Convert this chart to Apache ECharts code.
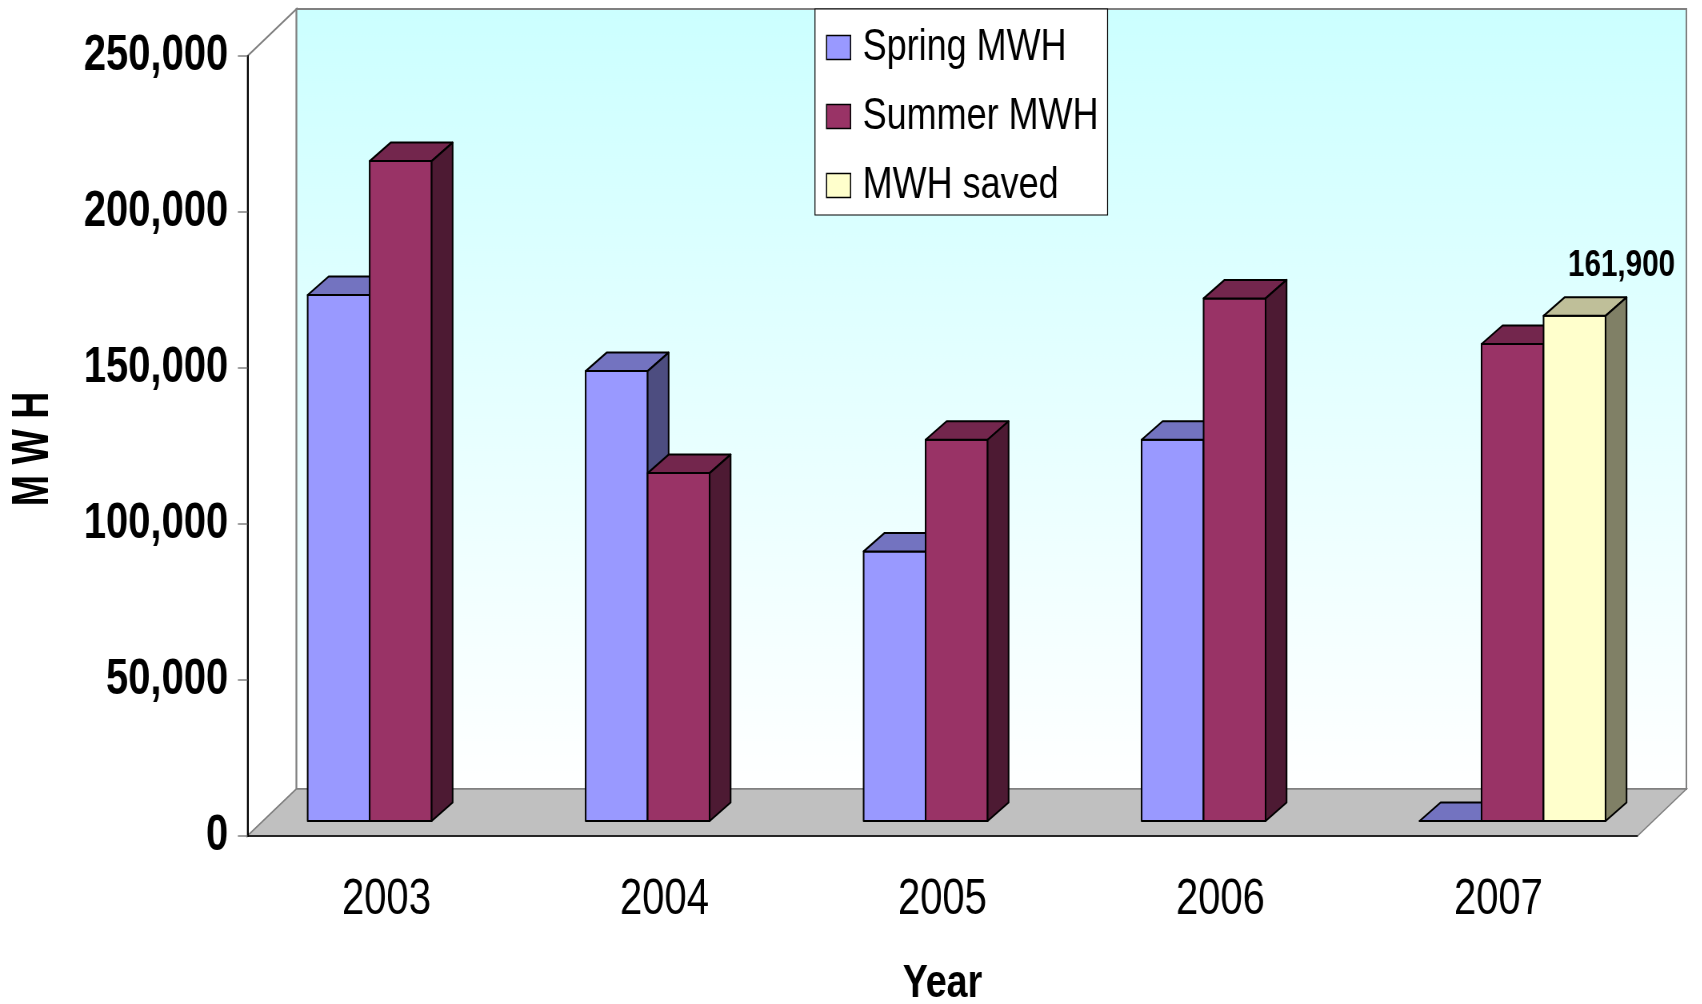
<!DOCTYPE html>
<html>
<head>
<meta charset="utf-8">
<script src="https://cdn.jsdelivr.net/npm/echarts@6/dist/echarts.min.js"></script>
<style>
html, body { margin: 0; padding: 0; background: #fff; overflow: hidden; }
#wrap { width: 1702px; height: 1004px; overflow: hidden; position: relative; }
/* the source chart uses a narrow font; draw wider and squeeze horizontally */
#chart { width: 2127.5px; height: 1004px; transform: scaleX(0.8); transform-origin: 0 0; }
</style>
</head>
<body>
<div id="wrap"><div id="chart"></div></div>
<script>
var years = ['2003', '2004', '2005', '2006', '2007'];
var springMwh = [168600, 144200, 86400, 122200, 0];
var summerMwh = [211500, 111500, 122200, 167500, 152900];
var savedMwh = [null, null, null, null, 161900];
var yMax = 250000;
var yStep = 50000;
var yTitle = 'M W H';

var K = 0.8; // horizontal squeeze, x values below are in screen px / K
var FONT = '"Liberation Sans", Arial, sans-serif';
// fake 3d depth
var WALL_DX = 49 / K, WALL_DY = 47;
var FRONT_DY = 15;
var BAR_DX = 21 / K, BAR_DY = 18.5;
var BAR_FRAC = 0.223, GROUP_SHIFT = 0.051;

var faces = {
  spring: ['#9999ff', '#7373c0', '#4d4d80'],
  summer: ['#993366', '#73264d', '#4d1a33'],
  saved: ['#ffffcc', '#bfbf99', '#808066']
};

function fmt (v) {
  return String(v).replace(/\B(?=(\d{3})+(?!\d))/g, ',');
}

function renderWalls (params, api) {
  var cs = params.coordSys;
  var x0 = cs.x, y0 = cs.y, w = cs.width, h = cs.height;
  return {
    type: 'group',
    children: [
      {
        type: 'polygon',
        shape: {points: [[x0, y0], [x0 + WALL_DX, y0 - WALL_DY], [x0 + WALL_DX, y0 + h - WALL_DY], [x0, y0 + h]]},
        style: {fill: '#ffffff', stroke: '#808080', lineWidth: 2}
      },
      {
        type: 'rect',
        shape: {x: x0 + WALL_DX, y: y0 - WALL_DY, width: w, height: h},
        style: {
          fill: new echarts.graphic.LinearGradient(0, 0, 0, 1, [
            {offset: 0, color: '#ccffff'},
            {offset: 1, color: '#ffffff'}
          ]),
          stroke: '#808080',
          lineWidth: 2
        }
      },
      {
        type: 'polygon',
        shape: {points: [[x0, y0 + h], [x0 + w, y0 + h], [x0 + w + WALL_DX, y0 + h - WALL_DY], [x0 + WALL_DX, y0 + h - WALL_DY]]},
        style: {fill: '#c0c0c0', stroke: '#808080', lineWidth: 1.5}
      },
      // y axis title, tall narrow letters like the source
      {
        type: 'text',
        x: x0 - 214 / K,
        y: y0 + h / 2 + 3,
        rotation: Math.PI / 2,
        scaleX: 0.78,
        scaleY: 1.35,
        style: {
          text: yTitle, fontSize: 48, fontWeight: 'bold', fontFamily: FONT,
          align: 'center', verticalAlign: 'middle', fill: '#000'
        }
      }
    ]
  };
}

function barRenderer (slot, cols, withLabel) {
  return function (params, api) {
    var v = api.value(1);
    if (isNaN(v)) return null;
    var i = api.value(0);
    var band = api.size([1, 0])[0];
    var base = api.coord([i, 0]);
    var top = api.coord([i, v]);
    var bw = band * BAR_FRAC;
    var left = base[0] + band * GROUP_SHIFT + (slot - 1.5) * bw;
    var right = left + bw;
    var yb = base[1] - FRONT_DY;
    var yt = top[1] - FRONT_DY;
    var line = {stroke: '#000', lineWidth: 2, lineJoin: 'round'};
    var kids = [
      {type: 'rect', shape: {x: left, y: yt, width: bw, height: yb - yt}, style: Object.assign({fill: cols[0]}, line)},
      {type: 'polygon', shape: {points: [[left, yt], [right, yt], [right + BAR_DX, yt - BAR_DY], [left + BAR_DX, yt - BAR_DY]]}, style: Object.assign({fill: cols[1]}, line)},
      {type: 'polygon', shape: {points: [[right, yt], [right + BAR_DX, yt - BAR_DY], [right + BAR_DX, yb - BAR_DY], [right, yb]]}, style: Object.assign({fill: cols[2]}, line)}
    ];
    if (withLabel) {
      kids.push({
        type: 'text',
        style: {
          text: fmt(v), x: left + bw / 2 + 47 / K, y: yt - 32,
          align: 'center', verticalAlign: 'bottom',
          fontSize: 37, fontWeight: 'bold', fontFamily: FONT, fill: '#000'
        }
      });
    }
    return {type: 'group', children: kids};
  };
}

function toData (arr) {
  return arr.map(function (v, i) { return [i, v]; });
}

var chart = echarts.init(document.getElementById('chart'));
chart.setOption({
  animation: false,
  backgroundColor: '#fff',
  grid: {left: 247.5 / K, right: 65 / K, top: 56, bottom: 168, outerBoundsMode: 'none'},
  legend: {
    data: [
      {name: 'Spring MWH', itemStyle: {color: faces.spring[0], borderColor: '#000', borderWidth: 1.5}},
      {name: 'Summer MWH', itemStyle: {color: faces.summer[0], borderColor: '#000', borderWidth: 1.5}},
      {name: 'MWH saved', itemStyle: {color: faces.saved[0], borderColor: '#000', borderWidth: 1.5}}
    ],
    orient: 'vertical',
    left: 815 / K,
    top: 9,
    padding: [16, 9 / K, 7, 11 / K],
    itemWidth: 24 / K,
    itemHeight: 24,
    itemGap: 24,
    icon: 'rect',
    backgroundColor: '#fff',
    borderColor: '#000',
    borderWidth: 1.2,
    textStyle: {fontSize: 45, lineHeight: 44, fontFamily: FONT, color: '#000', padding: [0, 0, 0, 8 / K]},
    z: 10
  },
  xAxis: {
    type: 'category',
    data: years,
    z: 3,
    name: 'Year',
    nameLocation: 'middle',
    nameGap: 125,
    nameMoveOverlap: false,
    nameTextStyle: {fontSize: 47, fontWeight: 'bold', fontFamily: FONT, color: '#000'},
    axisLine: {lineStyle: {color: '#000', width: 1.5}},
    axisTick: {length: 12, lineStyle: {color: '#808080', width: 2}},
    axisLabel: {fontSize: 50, fontFamily: FONT, color: '#000', margin: 39}
  },
  yAxis: {
    type: 'value',
    min: 0,
    max: yMax,
    interval: yStep,
    z: 3,
    axisLine: {show: true, lineStyle: {color: '#000', width: 2}},
    axisTick: {show: true, length: 12, lineStyle: {color: '#808080', width: 1.5}},
    splitLine: {show: false},
    axisLabel: {fontSize: 50, fontWeight: 'bold', fontFamily: FONT, color: '#000', margin: 24, formatter: fmt}
  },
  series: [
    {
      type: 'custom', name: 'walls', silent: true, z: 1,
      data: [[0, 0]],
      renderItem: renderWalls
    },
    {
      type: 'custom', name: 'Spring MWH', z: 2,
      itemStyle: {color: faces.spring[0]},
      encode: {x: 0, y: 1},
      data: toData(springMwh),
      renderItem: barRenderer(0, faces.spring, false)
    },
    {
      type: 'custom', name: 'Summer MWH', z: 2,
      itemStyle: {color: faces.summer[0]},
      encode: {x: 0, y: 1},
      data: toData(summerMwh),
      renderItem: barRenderer(1, faces.summer, false)
    },
    {
      type: 'custom', name: 'MWH saved', z: 2,
      itemStyle: {color: faces.saved[0]},
      encode: {x: 0, y: 1},
      data: toData(savedMwh),
      renderItem: barRenderer(2, faces.saved, true)
    }
  ]
});
</script>
</body>
</html>
